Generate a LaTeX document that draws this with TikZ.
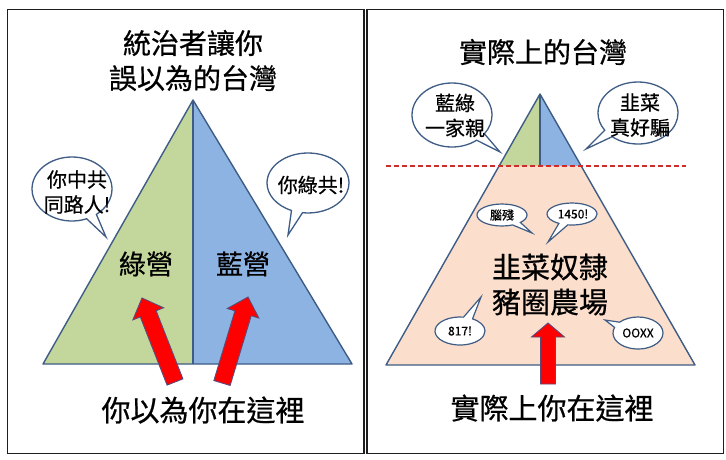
\documentclass[tikz,border=0pt]{standalone}
\usepackage{fontspec}
\setmainfont{Noto Sans CJK TC}[FakeBold=0.6]
\usetikzlibrary{calc,shapes.callouts,shapes.geometric}
\definecolor{grn}{HTML}{C3D69B}
\definecolor{blu}{HTML}{8DB3E2}
\definecolor{pch}{HTML}{FBDFCC}
\definecolor{edgec}{HTML}{3E5C85}
\definecolor{dred}{HTML}{D22B2B}
\definecolor{arredge}{HTML}{5B4C7A}
\definecolor{framec}{HTML}{1E1E1E}
\newcommand\mybarrow[5]{%
  \path ($(#2)!#5!(#1)$) coordinate (tmpH);
  \draw[blockarr] ($(#1)!#3!90:(#2)$) -- ($(tmpH)!#3!-90:(#1)$) -- ($(tmpH)!#4!-90:(#1)$) -- (#2) -- ($(tmpH)!#4!90:(#1)$) -- ($(tmpH)!#3!90:(#1)$) -- ($(#1)!#3!-90:(#2)$) -- cycle;}
\tikzset{
  panel/.style={draw=framec,line width=1.8pt},
  tri/.style={draw=edgec,line width=1.4pt,line join=round},
  blockarr/.style={fill=red,draw=arredge,line width=0.9pt,line join=miter},
  bubble/.style={ellipse callout,draw=edgec,fill=white,line width=1.3pt,inner sep=0pt,callout pointer arc=16},
  sbubble/.style={ellipse callout,draw=edgec,fill=white,line width=1.2pt,inner sep=0pt,callout pointer arc=22},
  big/.style={font=\fontsize{28}{35}\selectfont,align=center,inner sep=0pt},
  mid/.style={font=\fontsize{27}{34}\selectfont,inner sep=0pt},
  btxt/.style={font=\fontsize{20}{25}\selectfont,align=center,inner sep=0pt},
  stxt/.style={font=\fontsize{12}{14}\selectfont,inner sep=0pt},
}
\begin{document}
\begin{tikzpicture}[x=1pt,y=-1pt]
\useasboundingbox (0,0) rectangle (726,459);
\fill[white] (0,0) rectangle (726,459);
% frames
\draw[panel] (7.5,9.5) rectangle (364,453.5);
\draw[panel] (367,9.5) rectangle (723.5,453.5);

% ---------- left panel ----------
\coordinate (lA) at (193,100);
\coordinate (lL) at (43,364);
\coordinate (lR) at (352,364);
\coordinate (lM) at (193,364);
\fill[grn] (lA) -- (lL) -- (lM) -- cycle;
\fill[blu] (lA) -- (lR) -- (lM) -- cycle;
\draw[tri] (lA) -- (lL) -- (lR) -- cycle;
\draw[tri] (lA) -- (lM);

\node[big] (ltitle) at (193,60.5) {統治者讓你\\誤以為的台灣};
\node[mid] (green) at (146,264) {綠營};
\node[mid] (blue) at (243,264) {藍營};
\node[big,font=\fontsize{29}{35}\selectfont] (lbottom) at (203,410) {你以為你在這裡};

\node[bubble,minimum width=80pt,minimum height=64pt,callout absolute pointer={(106,237)}] (lb1) at (72,189) {};
\node[btxt] (lt1) at (77,192) {你中共\\同路人!};
\node[bubble,minimum width=82pt,minimum height=60pt,callout absolute pointer={(288,235)}] (lb2) at (308,183) {};
\node[btxt] (lt2) at (311,185) {你綠共!};

\coordinate (la1) at (175,382);
\coordinate (lb1tip) at (142,298);
\coordinate (la2) at (222,383);
\coordinate (lb2tip) at (248,297);
\mybarrow{la1}{lb1tip}{8.5pt}{16.5pt}{17pt}
\mybarrow{la2}{lb2tip}{8.5pt}{16.5pt}{17pt}

% ---------- right panel ----------
\coordinate (rA) at (540,94);
\coordinate (rL) at (386,365);
\coordinate (rR) at (695,365);
\coordinate (rC) at (540,166);
\coordinate (rcl) at ($(rA)!0.2657!(rL)$);
\coordinate (rcr) at ($(rA)!0.2657!(rR)$);
\fill[grn] (rA) -- (rcl) -- (rC) -- cycle;
\fill[blu] (rA) -- (rcr) -- (rC) -- cycle;
\fill[pch] (rcl) -- (rL) -- (rR) -- (rcr) -- cycle;
\draw[tri] (rA) -- (rL) -- (rR) -- cycle;
\draw[tri] (rA) -- (rC);
\coordinate (dl) at (386,166);
\coordinate (dr) at (686,166);
\draw[dred,line width=1.6pt,dash pattern=on 5pt off 3pt] (dl) -- (dr);

\node[big] (rtitle) at (543,52) {實際上的台灣};
\node[big,font=\fontsize{29}{35}\selectfont] (rmain) at (550,284.5) {韭菜奴隸\\豬圈農場};
\node[big,font=\fontsize{29}{35}\selectfont] (rbottom) at (552,408) {實際上你在這裡};

\node[bubble,minimum width=80pt,minimum height=64pt,callout absolute pointer={(500,152)}] (rb1) at (452,115) {};
\node[btxt] (rt1) at (455,115.5) {藍綠\\一家親};
\node[bubble,minimum width=80pt,minimum height=62pt,callout absolute pointer={(586,149)}] (rb2) at (638,113) {};
\node[btxt] (rt2) at (640,115) {韭菜\\真好騙};

\node[sbubble,minimum width=50pt,minimum height=22pt,callout absolute pointer={(532,233)}] (sb1) at (502,215) {};
\node[stxt] (st1) at (502,215) {腦殘};
\node[sbubble,minimum width=50pt,minimum height=22pt,callout absolute pointer={(548,242)}] (sb2) at (572,214) {};
\node[stxt] (st2) at (573,214) {1450!};
\node[sbubble,minimum width=50pt,minimum height=28pt,callout absolute pointer={(481,297)}] (sb3) at (460,331) {};
\node[stxt] (st3) at (460,331) {817!};
\node[sbubble,minimum width=50pt,minimum height=32pt,callout absolute pointer={(605,320)}] (sb4) at (638,333) {};
\node[stxt] (st4) at (638,333) {OOXX};

\coordinate (ra1) at (548,384);
\coordinate (rb1tip) at (548,323);
\mybarrow{ra1}{rb1tip}{7.5pt}{16.5pt}{14pt}
\end{tikzpicture}
\end{document}
